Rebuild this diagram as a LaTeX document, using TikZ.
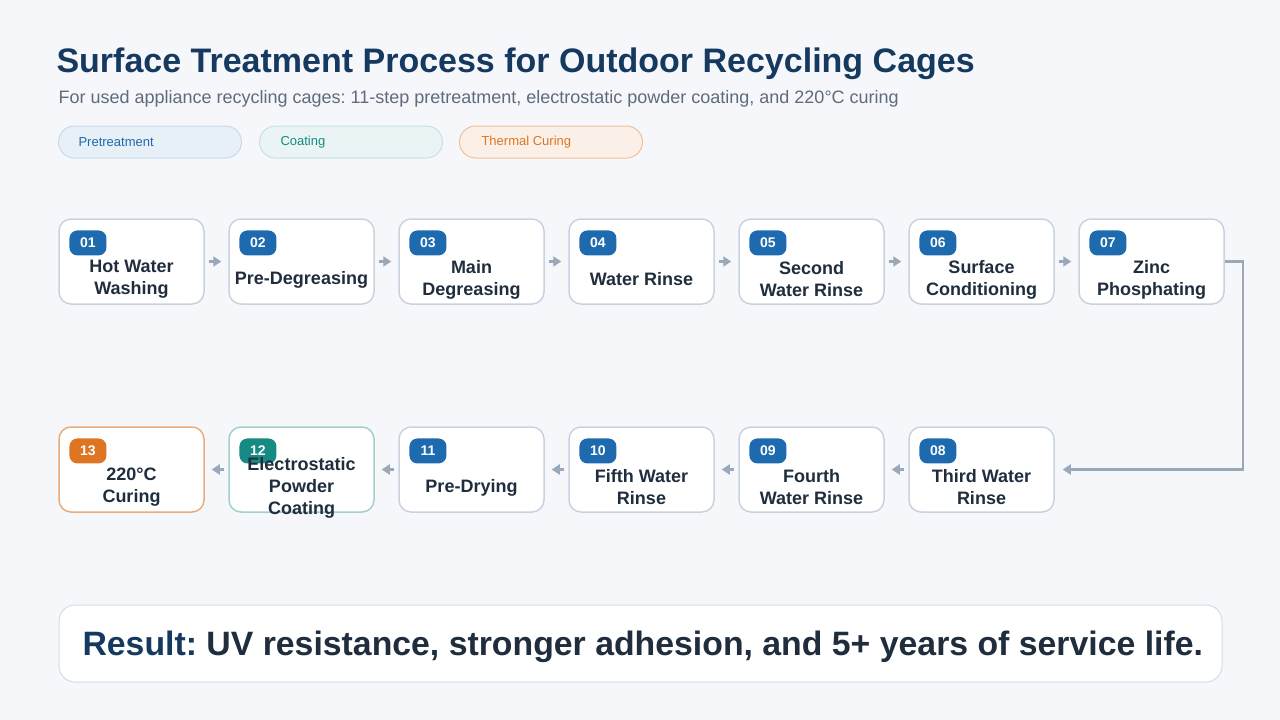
\documentclass[tikz,border=0pt]{standalone}
\usepackage{fontspec}
\setmainfont{Liberation Sans}
\usetikzlibrary{arrows.meta}
\frenchspacing

\definecolor{bgcol}{HTML}{F5F7FB}
\definecolor{navy}{HTML}{163A5F}
\definecolor{inkcol}{HTML}{1F2D3D}
\definecolor{subcol}{HTML}{5F6B7A}
\definecolor{boxline}{HTML}{C9D3E0}
\definecolor{arrowcol}{HTML}{9AA8B8}
\definecolor{pblue}{HTML}{1E6AAE}
\definecolor{pteal}{HTML}{178A84}
\definecolor{porange}{HTML}{DD7522}

\begin{document}
\begin{tikzpicture}[
    x=1pt, y=-1pt,
    >={Triangle[width=10pt,length=8pt]},
    stepbox/.style={draw=boxline, fill=white, line width=1.5pt,
        rounded corners=12pt, minimum width=145pt, minimum height=85pt},
    steptext/.style={align=center, text=inkcol,
        font=\fontsize{18}{22}\selectfont\bfseries},
    badge/.style={fill=#1, rounded corners=8pt, anchor=north west,
        minimum width=37pt, minimum height=25pt, inner sep=0pt,
        text=white, font=\fontsize{14}{16}\selectfont\bfseries},
    pill/.style={rounded corners=16pt, minimum width=183pt,
        minimum height=32pt, line width=1pt},
    pilltext/.style={anchor=west, font=\fontsize{13}{15}\selectfont},
    flow/.style={->, draw=arrowcol, line width=2.5pt}
]

\useasboundingbox (0,0) rectangle (1280,720);
\fill[bgcol] (0,0) rectangle (1280,720);

% Heading
\node[anchor=west, text=navy, font=\fontsize{34}{38}\selectfont\bfseries] (title)
    at (53,64) {Surface Treatment Process for Outdoor Recycling Cages};
\node[anchor=west, text=subcol, font=\fontsize{18}{21}\selectfont] (subtitle)
    at (55,99) {For used appliance recycling cages: 11-step pretreatment, electrostatic powder coating, and 220°C curing};

% Legend
\node[pill, draw=pblue!25, fill=pblue!10] (lg1) at (150,142) {};
\node[pilltext, text=pblue] (lt1) at (75,142) {Pretreatment};
\node[pill, draw=pteal!25, fill=pteal!9] (lg2) at (351,142) {};
\node[pilltext, text=pteal] (lt2) at (277,142) {Coating};
\node[pill, draw=porange!45, fill=porange!11] (lg3) at (551,142) {};
\node[pilltext, text=porange] (lt3) at (478,142) {Thermal Curing};

% Upper row
\node[stepbox] (s1) at (131.5,261.5) {};
\node[badge=pblue] (b1) at ([xshift=11pt,yshift=-12pt]s1.north west) {01};
\node[steptext] (t1) at ([yshift=-18pt]s1.center) {Hot Water\\Washing};

\node[stepbox] (s2) at (301.5,261.5) {};
\node[badge=pblue] (b2) at ([xshift=11pt,yshift=-12pt]s2.north west) {02};
\node[steptext] (t2) at ([yshift=-18pt]s2.center) {Pre-Degreasing};

\node[stepbox] (s3) at (471.5,261.5) {};
\node[badge=pblue] (b3) at ([xshift=11pt,yshift=-12pt]s3.north west) {03};
\node[steptext] (t3) at ([yshift=-18pt]s3.center) {Main\\Degreasing};

\node[stepbox] (s4) at (641.5,261.5) {};
\node[badge=pblue] (b4) at ([xshift=11pt,yshift=-12pt]s4.north west) {04};
\node[steptext] (t4) at ([yshift=-18pt]s4.center) {Water Rinse};

\node[stepbox] (s5) at (811.5,261.5) {};
\node[badge=pblue] (b5) at ([xshift=11pt,yshift=-12pt]s5.north west) {05};
\node[steptext] (t5) at ([yshift=-18pt]s5.center) {Second\\Water Rinse};

\node[stepbox] (s6) at (981.5,261.5) {};
\node[badge=pblue] (b6) at ([xshift=11pt,yshift=-12pt]s6.north west) {06};
\node[steptext] (t6) at ([yshift=-18pt]s6.center) {Surface\\Conditioning};

\node[stepbox] (s7) at (1151.5,261.5) {};
\node[badge=pblue] (b7) at ([xshift=11pt,yshift=-12pt]s7.north west) {07};
\node[steptext] (t7) at ([yshift=-18pt]s7.center) {Zinc\\Phosphating};

% Lower row, right to left
\node[stepbox] (s8) at (981.5,469.5) {};
\node[badge=pblue] (b8) at ([xshift=11pt,yshift=-12pt]s8.north west) {08};
\node[steptext] (t8) at ([yshift=-18pt]s8.center) {Third Water\\Rinse};

\node[stepbox] (s9) at (811.5,469.5) {};
\node[badge=pblue] (b9) at ([xshift=11pt,yshift=-12pt]s9.north west) {09};
\node[steptext] (t9) at ([yshift=-18pt]s9.center) {Fourth\\Water Rinse};

\node[stepbox] (s10) at (641.5,469.5) {};
\node[badge=pblue] (b10) at ([xshift=11pt,yshift=-12pt]s10.north west) {10};
\node[steptext] (t10) at ([yshift=-18pt]s10.center) {Fifth Water\\Rinse};

\node[stepbox] (s11) at (471.5,469.5) {};
\node[badge=pblue] (b11) at ([xshift=11pt,yshift=-12pt]s11.north west) {11};
\node[steptext] (t11) at ([yshift=-18pt]s11.center) {Pre-Drying};

\node[stepbox, draw=pteal!40] (s12) at (301.5,469.5) {};
\node[badge=pteal] (b12) at ([xshift=11pt,yshift=-12pt]s12.north west) {12};
\node[steptext] (t12) at ([yshift=-18pt]s12.center) {Electrostatic\\Powder\\Coating};

\node[stepbox, draw=porange!60] (s13) at (131.5,469.5) {};
\node[badge=porange] (b13) at ([xshift=11pt,yshift=-12pt]s13.north west) {13};
\node[steptext] (t13) at ([yshift=-18pt]s13.center) {220°C\\Curing};

% Connectors
\draw[flow] ([xshift=4pt]s1.east) -- ([xshift=-7pt]s2.west);
\draw[flow] ([xshift=4pt]s2.east) -- ([xshift=-7pt]s3.west);
\draw[flow] ([xshift=4pt]s3.east) -- ([xshift=-7pt]s4.west);
\draw[flow] ([xshift=4pt]s4.east) -- ([xshift=-7pt]s5.west);
\draw[flow] ([xshift=4pt]s5.east) -- ([xshift=-7pt]s6.west);
\draw[flow] ([xshift=4pt]s6.east) -- ([xshift=-7pt]s7.west);
\draw[flow] (s7.east) -- ++(18,0) |- ([xshift=8pt]s8.east);
\draw[flow] ([xshift=-4pt]s8.west) -- ([xshift=7pt]s9.east);
\draw[flow] ([xshift=-4pt]s9.west) -- ([xshift=7pt]s10.east);
\draw[flow] ([xshift=-4pt]s10.west) -- ([xshift=7pt]s11.east);
\draw[flow] ([xshift=-4pt]s11.west) -- ([xshift=7pt]s12.east);
\draw[flow] ([xshift=-4pt]s12.west) -- ([xshift=7pt]s13.east);

% Result banner
\node[draw=boxline!80, fill=white, line width=1pt, rounded corners=16pt,
    minimum width=1163pt, minimum height=77pt] (res) at (640.5,643.5) {};
\node[anchor=west, text=inkcol, font=\fontsize{33.8}{38}\selectfont\bfseries] (restext)
    at (79,647) {\textcolor{navy}{Result:} UV resistance, stronger adhesion, and 5+ years of service life.};

\end{tikzpicture}
\end{document}
